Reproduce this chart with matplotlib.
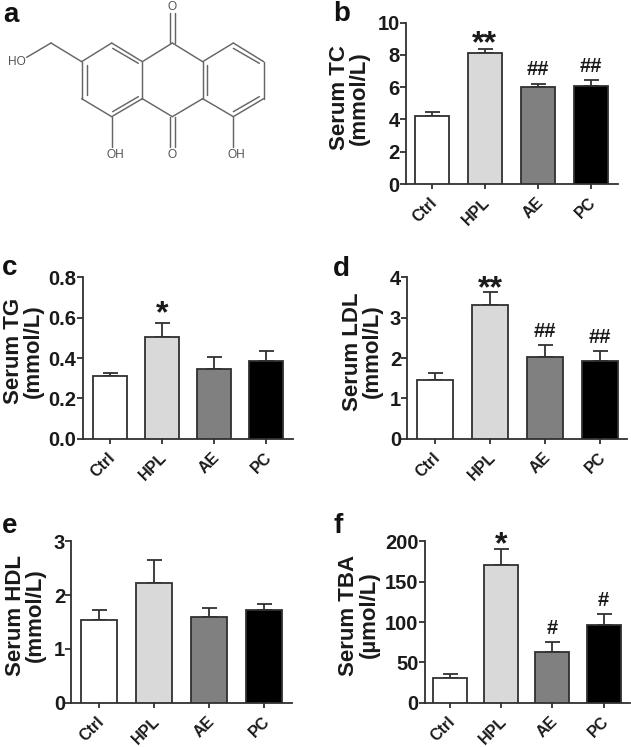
import matplotlib
matplotlib.use("Agg")
import matplotlib.pyplot as plt
from matplotlib.transforms import ScaledTranslation

W, H = 631, 747
plt.rcParams['font.family'] = ['Liberation Sans', 'DejaVu Sans']
plt.rcParams['font.weight'] = 'bold'
plt.rcParams['axes.labelweight'] = 'bold'

categories = ['Ctrl', 'HPL', 'AE', 'PC']
bar_colors = ['#ffffff', '#d9d9d9', '#808080', '#000000']
INK = '#303030'

tc_values = [4.2, 8.1, 6.0, 6.1]
tc_tops = [4.45, 8.4, 6.2, 6.45]
tg_values = [0.31, 0.505, 0.345, 0.385]
tg_tops = [0.327, 0.575, 0.405, 0.433]
ldl_values = [1.46, 3.32, 2.02, 1.93]
ldl_tops = [1.63, 3.63, 2.33, 2.17]
hdl_values = [1.53, 2.23, 1.60, 1.73]
hdl_tops = [1.73, 2.66, 1.76, 1.84]
tba_values = [30, 171, 63, 96]
tba_tops = [36, 190, 75, 110]

tc_marks = ['', '**', '##', '##']
tg_marks = ['', '*', '', '']
ldl_marks = ['', '**', '##', '##']
hdl_marks = ['', '', '', '']
tba_marks = ['', '*', '#', '#']


def px(x, y):
    return x / W, 1 - y / H


def panel(letter, letter_xy, label, label_xy, values, tops, marks, yticks, ylabels,
          spine_x, right, y_bottom, y_top, c0, step, bar_px, mark_gaps):
    ax = fig.add_axes([spine_x / W, 1 - y_bottom / H, (right - spine_x) / W, (y_bottom - y_top) / H])
    ax.patch.set_alpha(0)
    ax.set_xlim((spine_x - c0) / step, (right - c0) / step)
    ax.set_ylim(yticks[0], yticks[-1])
    xs = range(len(values))
    errs = [t - v for t, v in zip(tops, values)]
    ax.errorbar(xs, values, yerr=[[0] * len(errs), errs], fmt='none', ecolor=INK,
                elinewidth=1.3, capsize=5.4, capthick=1.3, zorder=2)
    ax.bar(xs, values, width=bar_px / step, color=bar_colors, edgecolor=INK, linewidth=1.3, zorder=3)
    for s in ('top', 'right'):
        ax.spines[s].set_visible(False)
    for s in ('left', 'bottom'):
        ax.spines[s].set_color(INK)
        ax.spines[s].set_linewidth(1.3)
    ax.set_yticks(yticks, ylabels)
    ax.set_xticks(list(xs), categories)
    ax.tick_params(axis='y', length=4.5, width=1.3, color=INK, labelsize=14.5, pad=0, labelcolor='#1a1a1a')
    ax.tick_params(axis='x', length=3.8, width=1.3, color=INK, labelsize=11.5, pad=8, labelcolor='#1a1a1a')
    shift = ScaledTranslation(3 / 100, 0, fig.dpi_scale_trans)
    for t in ax.get_xticklabels():
        t.set_rotation(45)
        t.set_rotation_mode('anchor')
        t.set_ha('right')
        t.set_va('center')
        t.set_transform(t.get_transform() + shift)
    ax.set_ylabel(label, fontsize=16, linespacing=0.98, color='#1a1a1a', va='center', ha='center', multialignment='center')
    ax.yaxis.set_label_coords(*px(*label_xy), transform=fig.transFigure)
    for x, top, m, gap in zip(xs, tops, marks, mark_gaps):
        if not m:
            continue
        size = 23 if '*' in m else 14.5
        ax.annotate(m, (x, top), xytext=(0, gap), textcoords='offset pixels', ha='center', va='baseline',
                    fontsize=size, color='#1a1a1a', annotation_clip=False, zorder=4)
    fig.text(*px(*letter_xy), letter, fontsize=20, color='#111111', ha='left', va='baseline')


fig = plt.figure(figsize=(W / 100, H / 100), dpi=100, facecolor='white')

# ----- panel a: molecular structure, drawn on a pixel canvas -----
mol = fig.add_axes([0, 0, 1, 1])
mol.set_xlim(0, W)
mol.set_ylim(H, 0)
mol.axis('off')
bond_segments = [
    ((80, 172), (153, 129)), ((153, 129), (245, 185)), ((245, 185), (335, 129)), ((335, 129), (427, 185)),
    ((427, 185), (517, 129)), ((517, 129), (608, 185)), ((608, 185), (700, 129)), ((700, 129), (791, 185)),
    ((791, 185), (791, 296)), ((791, 296), (700, 350)), ((700, 350), (608, 296)), ((608, 296), (517, 350)),
    ((517, 350), (427, 296)), ((427, 296), (335, 350)), ((335, 350), (245, 296)), ((245, 296), (245, 185)),
    ((427, 185), (427, 296)), ((608, 185), (608, 296)),
    ((260, 195), (260, 285)), ((338, 145), (415, 190)), ((338, 335), (415, 290)), ((622, 195), (622, 285)),
    ((700, 145), (778, 190)), ((700, 335), (778, 290)),
    ((510, 129), (510, 38)), ((524, 129), (524, 38)), ((510, 350), (510, 440)), ((524, 350), (524, 440)),
    ((335, 350), (335, 440)), ((700, 350), (700, 440)),
]
for (x1, y1), (x2, y2) in bond_segments:
    mol.plot([x1 / 3, x2 / 3], [y1 / 3, y2 / 3], color='#666666', lw=1.05, solid_capstyle='round')
atom_labels = [('O', 516, 20), ('HO', 50, 186), ('OH', 347, 464), ('O', 516, 464), ('OH', 710, 464)]
for s, x, y in atom_labels:
    mol.text(x / 3, y / 3, s, fontsize=8.6, fontweight='normal', color='#555555', ha='center', va='center')
fig.text(*px(3, 22), 'a', fontsize=20, color='#111111', ha='left', va='baseline')

# ----- bar panels -----
panel('b', (333, 21), 'Serum TC\n(mmol/L)', (349.5, 98), tc_values, tc_tops, tc_marks,
      [0, 2, 4, 6, 8, 10], ['0', '2', '4', '6', '8', '10'],
      406, 617.7, 184, 22.7, 431.7, 53, 34, [0, -4, 9, 8])
panel('c', (2, 275), 'Serum TG\n(mmol/L)', (23.5, 351), tg_values, tg_tops, tg_marks,
      [0, 0.2, 0.4, 0.6, 0.8], ['0.0', '0.2', '0.4', '0.6', '0.8'],
      82.7, 293, 438.7, 277.3, 109.7, 52.2, 34, [0, 0, 0, 0])
panel('d', (333, 276), 'Serum LDL\n(mmol/L)', (362.5, 351.5), ldl_values, ldl_tops, ldl_marks,
      [0, 1, 2, 3, 4], ['0', '1', '2', '3', '4'],
      407.3, 627, 438.7, 277.3, 435, 55.1, 36, [0, -5, 8, 8])
panel('e', (2, 533), 'Serum HDL\n(mmol/L)', (25.5, 615), hdl_values, hdl_tops, hdl_marks,
      [0, 1, 2, 3], ['0', '1', '2', '3'],
      71.3, 292, 702.7, 541.3, 99, 55, 36, [0, 0, 0, 0])
panel('f', (333, 533), 'Serum TBA\n(µmol/L)', (359, 615), tba_values, tba_tops, tba_marks,
      [0, 50, 100, 150, 200], ['0', '50', '100', '150', '200'],
      424.7, 630, 702.7, 541.3, 449.7, 51.3, 34, [0, -4, 8, 8])

fig.savefig('out.png', dpi=100, facecolor='white')
